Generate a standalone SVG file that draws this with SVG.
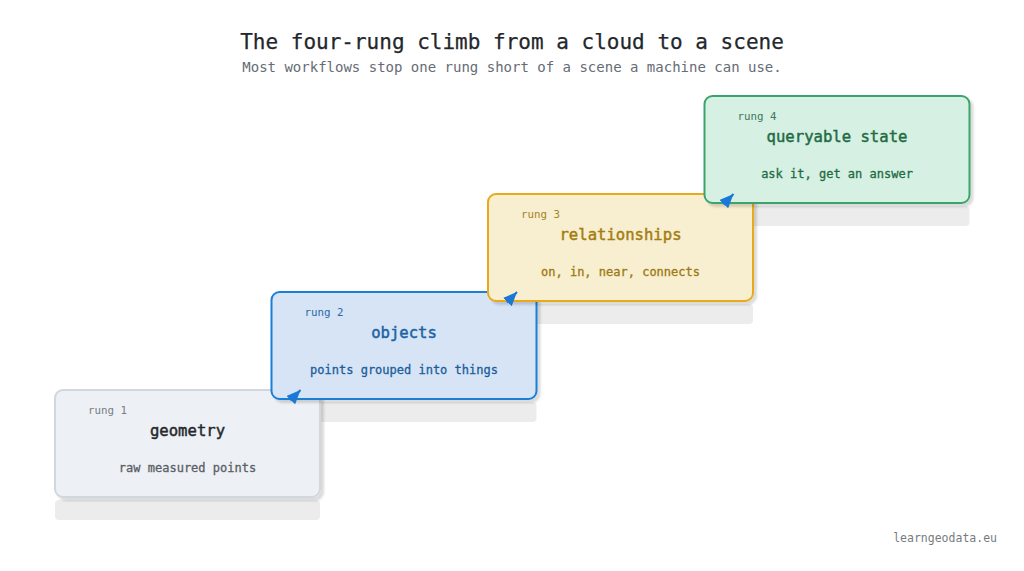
<svg xmlns="http://www.w3.org/2000/svg" width="1024" height="571" viewBox="0 0 1024 571">
  <defs>
    <filter id="sh" x="-10%" y="-10%" width="130%" height="140%">
      <feDropShadow dx="3" dy="3" stdDeviation="1.2" flood-color="#000" flood-opacity="0.14"/>
    </filter>
    <marker id="ah" viewBox="0 0 14 12" refX="14" refY="6" markerWidth="14" markerHeight="12" markerUnits="userSpaceOnUse" orient="auto">
      <path d="M0,0 L14,6 L0,12 z" fill="#1a78d6"/>
    </marker>
    <style>
      text { font-family: "DejaVu Sans Mono", "Liberation Mono", monospace; }
      .title { font-size: 21px; fill: #24272b; text-anchor: middle; stroke: #24272b; stroke-width: 0.25px; }
      .sub { font-size: 14px; fill: #666c75; text-anchor: middle; }
      .step { fill: #ececec; }
      .box { stroke-width: 2; filter: url(#sh); }
      .rung { font-size: 10.8px; }
      .name { font-size: 15.6px; text-anchor: middle; stroke-width: 0.45px; }
      .desc { font-size: 12px; text-anchor: middle; stroke-width: 0.3px; }
      .foot { font-size: 11.5px; fill: #777b80; text-anchor: end; }
      .conn { stroke: #1a78d6; stroke-width: 2; fill: none; marker-end: url(#ah); }
    </style>
  </defs>
  <rect width="1024" height="571" fill="#ffffff"/>
  <text class="title" x="512" y="49">The four-rung climb from a cloud to a scene</text>
  <text class="sub" x="512" y="72">Most workflows stop one rung short of a scene a machine can use.</text>

  <g id="steps">
    <rect class="step" x="55" y="500" width="265" height="20" rx="4"/>
    <rect class="step" x="271.5" y="402" width="265" height="20" rx="4"/>
    <rect class="step" x="488" y="304" width="265" height="20" rx="4"/>
    <rect class="step" x="704.5" y="206" width="265" height="20" rx="4"/>
  </g>

  <g id="rung1">
    <rect class="box" x="55" y="390" width="265" height="107" rx="8" fill="#edf0f4" stroke="#d1d7df"/>
    <text class="rung" x="88" y="414" fill="#7a7e84">rung 1</text>
    <text class="name" x="187.5" y="435.5" fill="#25282c" stroke="#25282c">geometry</text>
    <text class="desc" x="187.5" y="472" fill="#5a5f66" stroke="#5a5f66">raw measured points</text>
  </g>
  <g id="rung2">
    <rect class="box" x="271.5" y="292" width="265" height="107" rx="8" fill="#d6e4f5" stroke="#1b7fd6"/>
    <text class="rung" x="304.5" y="316" fill="#2a6aa8">rung 2</text>
    <text class="name" x="404" y="337.5" fill="#1b62a6" stroke="#1b62a6">objects</text>
    <text class="desc" x="404" y="374" fill="#1b5d9c" stroke="#1b5d9c">points grouped into things</text>
  </g>
  <g id="rung3">
    <rect class="box" x="488" y="194" width="265" height="107" rx="8" fill="#f8eed0" stroke="#e8a91a"/>
    <text class="rung" x="521" y="218" fill="#a5842a">rung 3</text>
    <text class="name" x="620.5" y="239.5" fill="#a37d0e" stroke="#a37d0e">relationships</text>
    <text class="desc" x="620.5" y="276" fill="#9c7a10" stroke="#9c7a10">on, in, near, connects</text>
  </g>
  <g id="rung4">
    <rect class="box" x="704.5" y="96" width="265" height="107" rx="8" fill="#d6f0e4" stroke="#3ba46b"/>
    <text class="rung" x="737.5" y="120" fill="#3d7a58">rung 4</text>
    <text class="name" x="837" y="141.5" fill="#1f6b42" stroke="#1f6b42">queryable state</text>
    <text class="desc" x="837" y="178" fill="#1f6b42" stroke="#1f6b42">ask it, get an answer</text>
  </g>

  <g id="connectors">
    <path class="conn" d="M290.5,400.5 L300.5,390"/>
    <path class="conn" d="M507,302.5 L517,292"/>
    <path class="conn" d="M723.5,204.5 L733.5,194"/>
  </g>

  <text class="foot" x="997" y="542">learngeodata.eu</text>
</svg>
